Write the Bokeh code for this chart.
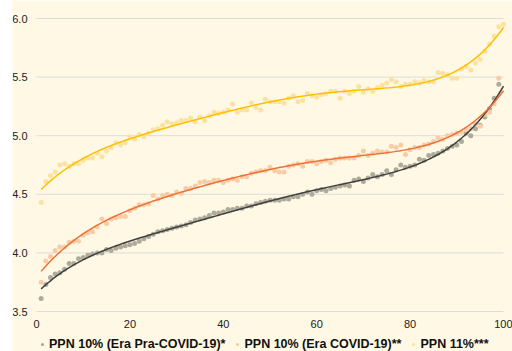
import numpy as np
from bokeh.plotting import figure
from bokeh.models import Legend, LegendItem, Range1d, FixedTicker, CustomJSTickFormatter
from bokeh.embed import file_html
from bokeh.resources import INLINE

# ---- data ----
x_pra = list(range(1, 100))
pra_covid = [3.61, 3.73, 3.79, 3.82, 3.83, 3.86, 3.91, 3.91, 3.95, 3.96,
             3.98, 3.99, 4.00, 4.00, 4.03, 4.02, 4.04, 4.05, 4.06, 4.07,
             4.08, 4.10, 4.12, 4.14, 4.16, 4.18, 4.19, 4.20, 4.21, 4.22,
             4.23, 4.24, 4.26, 4.28, 4.29, 4.30, 4.32, 4.34, 4.34, 4.35,
             4.37, 4.37, 4.38, 4.38, 4.40, 4.40, 4.42, 4.43, 4.44, 4.45,
             4.45, 4.45, 4.46, 4.46, 4.48, 4.48, 4.50, 4.52, 4.50, 4.53,
             4.54, 4.53, 4.55, 4.56, 4.57, 4.58, 4.57, 4.62, 4.63, 4.61,
             4.64, 4.67, 4.65, 4.67, 4.70, 4.67, 4.71, 4.75, 4.73, 4.74,
             4.75, 4.80, 4.79, 4.83, 4.84, 4.85, 4.87, 4.89, 4.91, 4.92,
             4.95, 5.02, 5.00, 5.06, 5.09, 5.16, 5.23, 5.32, 5.44]

x_covid = list(range(1, 100))
covid = [3.75, 3.93, 3.97, 4.02, 4.05, 4.05, 4.09, 4.10, 4.10, 4.15,
         4.17, 4.18, 4.22, 4.29, 4.25, 4.29, 4.30, 4.31, 4.31, 4.36,
         4.38, 4.41, 4.41, 4.42, 4.49, 4.46, 4.49, 4.50, 4.49, 4.52,
         4.51, 4.55, 4.55, 4.57, 4.60, 4.61, 4.60, 4.62, 4.62, 4.60,
         4.62, 4.63, 4.62, 4.65, 4.65, 4.68, 4.69, 4.70, 4.70, 4.73,
         4.70, 4.69, 4.69, 4.74, 4.75, 4.76, 4.74, 4.78, 4.78, 4.76,
         4.78, 4.79, 4.77, 4.80, 4.81, 4.81, 4.81, 4.81, 4.83, 4.87,
         4.83, 4.85, 4.87, 4.86, 4.86, 4.91, 4.90, 4.92, 4.84, 4.88,
         4.90, 4.90, 4.92, 4.93, 4.95, 4.98, 4.97, 5.00, 5.01, 5.02,
         5.03, 5.05, 5.06, 5.10, 5.08, 5.18, 5.20, 5.27, 5.49]

x_ppn11 = list(range(1, 101))
ppn11 = [4.43, 4.61, 4.66, 4.69, 4.75, 4.76, 4.74, 4.76, 4.76, 4.79,
         4.81, 4.81, 4.85, 4.82, 4.87, 4.90, 4.94, 4.92, 4.94, 4.99,
         4.97, 5.01, 4.99, 5.02, 5.05, 5.06, 5.09, 5.12, 5.10, 5.11,
         5.13, 5.13, 5.15, 5.12, 5.16, 5.13, 5.17, 5.20, 5.19, 5.20,
         5.22, 5.27, 5.20, 5.22, 5.22, 5.28, 5.24, 5.22, 5.31, 5.29,
         5.29, 5.29, 5.28, 5.32, 5.34, 5.29, 5.30, 5.36, 5.34, 5.33,
         5.35, 5.36, 5.38, 5.38, 5.32, 5.38, 5.36, 5.38, 5.42, 5.37,
         5.40, 5.38, 5.41, 5.43, 5.45, 5.48, 5.46, 5.42, 5.44, 5.44,
         5.46, 5.45, 5.47, 5.46, 5.46, 5.54, 5.53, 5.52, 5.49, 5.49,
         5.57, 5.59, 5.56, 5.62, 5.65, 5.72, 5.78, 5.85, 5.93, 5.95]

labels = ["PPN 10% (Era Pra-COVID-19)*", "PPN 10% (Era COVID-19)**", "PPN 11%***"]
x_ticks = [0, 20, 40, 60, 80, 100]
y_ticks = [3.5, 4.0, 4.5, 5.0, 5.5, 6.0]

BG = "#FEF8E4"
dot_colors = ["#AEAB9A", "#F7CCA6", "#FCE2A0"]
line_colors = ["#3F3F3F", "#EE7136", "#FFC000"]

# ---- layout (canvas pixels) ----
W, H = 512, 351
LEFT_WHITE = 12                 # white strip at the left edge
PLOT_L, PLOT_R = 36, 503        # where x = 0 and x = 100 fall
PLOT_T, PLOT_B = 18, 311        # where y = 6.0 and y = 3.5 fall
x0, x1 = x_ticks[0], x_ticks[-1]
y0, y1 = y_ticks[0], y_ticks[-1]
sx = (PLOT_R - PLOT_L) / (x1 - x0)
sy = (PLOT_B - PLOT_T) / (y1 - y0)
xr = Range1d(x0 - (PLOT_L - LEFT_WHITE) / sx, x1 + (W - PLOT_R) / sx)
yr = Range1d(y0 - (H - PLOT_B) / sy, y1 + PLOT_T / sy)

p = figure(width=W, height=H, output_backend="svg", toolbar_location=None,
           x_range=xr, y_range=yr,
           background_fill_color=BG, border_fill_color="white",
           min_border_left=LEFT_WHITE, min_border_right=0, min_border_top=0, min_border_bottom=0)
p.outline_line_color = None

for ax in (p.xaxis[0], p.yaxis[0]):
    ax.axis_line_color = None
    ax.major_tick_line_color = None
    ax.minor_tick_line_color = None
    ax.major_label_text_font = "Liberation Sans"
    ax.major_label_text_font_size = "11px"
    ax.major_label_text_color = "#222222"
    ax.major_tick_out = 0
    ax.major_tick_in = 0

p.xaxis.fixed_location = y0
p.yaxis.fixed_location = x0
p.xaxis.ticker = FixedTicker(ticks=x_ticks)
p.yaxis.ticker = FixedTicker(ticks=y_ticks)
p.yaxis.formatter = CustomJSTickFormatter(code="return tick.toFixed(1);")
p.xaxis.major_label_standoff = 8
p.yaxis.major_label_standoff = 9

p.xgrid.grid_line_color = None
p.ygrid.grid_line_color = None
n = len(y_ticks)
p.segment(x0=[x0] * n, x1=[x1] * n, y0=y_ticks, y1=y_ticks,
          line_color="#DCDCDC", line_width=1, level="underlay")

series = [(x_pra, pra_covid), (x_covid, covid), (x_ppn11, ppn11)]
items = []
for i, (xs, ys) in enumerate(series):
    r = p.scatter(xs, ys, size=5, fill_color=dot_colors[i], line_color=None)
    items.append(LegendItem(label=labels[i], renderers=[r]))

xf = np.linspace(1, 100, 200)
for i, (xs, ys) in enumerate(series):
    c = np.polyfit(xs, ys, 5)
    p.line(xf, np.polyval(c, xf), line_color=line_colors[i], line_width=1.5)

legend = Legend(items=items, orientation="horizontal", location=(26, 0),
                label_text_font="Liberation Sans", label_text_font_size="12.5px",
                label_text_font_style="bold", label_text_color="#111111",
                background_fill_alpha=0, border_line_color=None,
                glyph_width=8, glyph_height=10, label_standoff=3, spacing=8,
                padding=2, margin=0, label_height=14)
p.add_layout(legend, "center")

open("out.html", "w").write(file_html(p, INLINE))
